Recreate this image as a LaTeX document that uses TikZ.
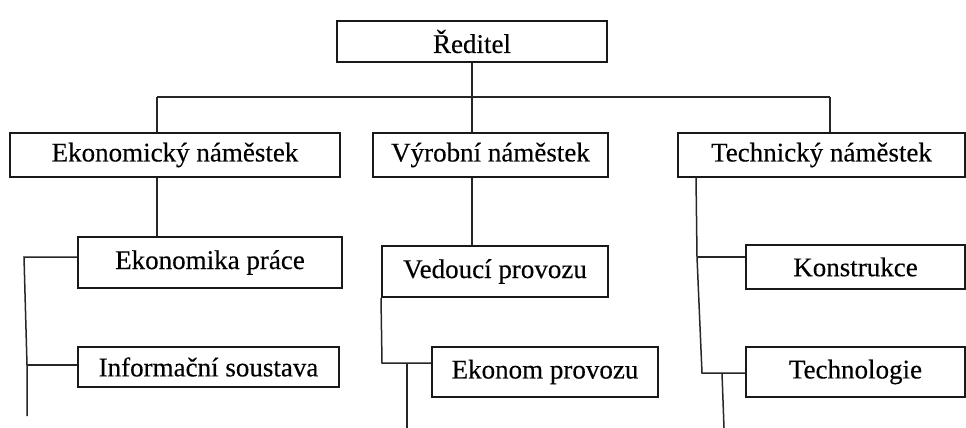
\documentclass[tikz,border=0pt]{standalone}
\usepackage{fontspec}
\newfontfamily\chartfont{Liberation Serif}[FakeBold=0.3]
\begin{document}
\begin{tikzpicture}[x=1pt,y=-1pt,
  unit/.style={draw=black!90, line width=2pt, rectangle, inner sep=0pt,
    font=\chartfont\fontsize{27}{29}\selectfont, text=black},
  link/.style={draw=black!85, line width=1.5pt}]
\useasboundingbox (0,0) rectangle (966,428);

% boxes
\node[unit, minimum width=270, minimum height=41] (dir) at (472,41.5) {Ředitel};
\node[unit, minimum width=330, minimum height=44] (ekn) at (175,155) {Ekonomický náměstek};
\node[unit, minimum width=235, minimum height=44] (vyr) at (490.5,155) {Výrobní náměstek};
\node[unit, minimum width=287, minimum height=44] (tech) at (821.5,155) {Technický náměstek};
\node[unit, minimum width=264, minimum height=51] (ekp) at (210,262.5) {Ekonomika práce};
\node[unit, minimum width=261, minimum height=40] (inf) at (208.5,367) {Informační soustava};
\node[unit, minimum width=226, minimum height=51] (ved) at (495,271.5) {Vedoucí provozu};
\node[unit, minimum width=226, minimum height=50] (ekm) at (545,372) {Ekonom provozu};
\node[unit, minimum width=219, minimum height=44] (kon) at (855.5,267) {Konstrukce};
\node[unit, minimum width=219, minimum height=50] (tgl) at (855.5,372) {Technologie};

% bus under the director
\coordinate (bus) at (472,97);
\coordinate (busL) at (157,97);
\coordinate (busR) at (830,97);
\draw[link] (dir.south) -- (bus);
\draw[link] (busL) -- (busR);
\draw[link] (busL) -- (busL |- ekn.north);
\draw[link] (bus) -- (bus |- vyr.north);
\draw[link] (busR) -- (busR |- tech.north);

% economic branch
\draw[link] (busL |- ekn.south) -- (busL |- ekp.north);
\coordinate (e1) at (24,257);
\coordinate (e2) at (27,365);
\coordinate (e3) at (27,416);
\draw[link] (e1 -| ekp.west) -- (e1) -- (e2) -- (e3);
\draw[link] (e2) -- (e2 -| inf.west);

% production branch
\draw[link] (bus |- vyr.south) -- (bus |- ved.north);
\coordinate (v1) at (382,363);
\coordinate (v2) at (407,363);
\coordinate (v3) at (407,428);
\draw[link] (ved.south west) -- (v1) -- (v1 -| ekm.west);
\draw[link] (v2) -- (v3);

% technical branch
\coordinate (t0) at (696,177);
\coordinate (t1) at (697,257);
\coordinate (t2) at (702,373);
\coordinate (t3) at (722,373);
\coordinate (t4) at (724,428);
\draw[link] (t0) -- (t1) -- (t2) -- (t2 -| tgl.west);
\draw[link] (t1) -- (t1 -| kon.west);
\draw[link] (t3) -- (t4);
\end{tikzpicture}
\end{document}
